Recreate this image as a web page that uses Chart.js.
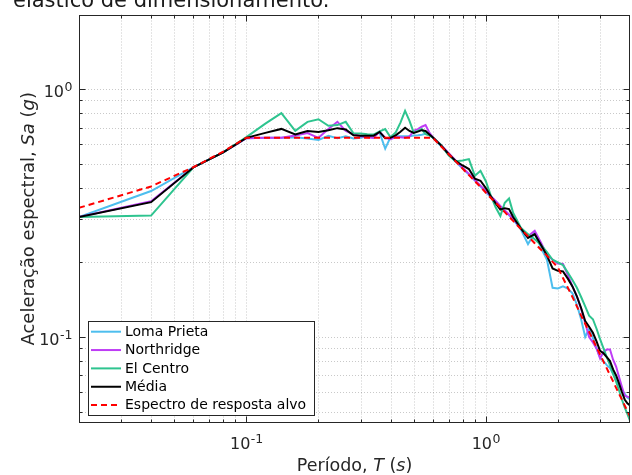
<!DOCTYPE html>
<html>
<head>
<meta charset="utf-8">
<script src="https://cdn.jsdelivr.net/npm/chart.js@4"></script>
<style>
  html, body { margin: 0; padding: 0; background: #fff; }
  #wrap { width: 632px; height: 475px; }
</style>
</head>
<body>
<div id="wrap"><canvas id="espectro" width="632" height="475"></canvas></div>
<script>
// períodos (s)
const periodos = [0.02, 0.04, 0.06, 0.08, 0.10, 0.12, 0.14, 0.16, 0.18, 0.20, 0.22, 0.24, 0.26, 0.28, 0.30,
    0.32, 0.34, 0.36, 0.38, 0.40, 0.42, 0.44, 0.46, 0.48, 0.50, 0.52, 0.54, 0.56, 0.58, 0.60,
    0.65, 0.70, 0.75, 0.80, 0.85, 0.90, 0.95, 1.00, 1.05, 1.10, 1.15, 1.20, 1.25, 1.30,
    1.40, 1.50, 1.60, 1.70, 1.80, 1.90, 2.00, 2.10, 2.20, 2.30, 2.40, 2.50, 2.60, 2.70, 2.80, 2.90,
    3.00, 3.10, 3.20, 3.30, 3.40, 3.50, 3.60, 3.70, 3.80, 3.90, 4.00];

// Sa (g)
const lomaPrieta = [0.305, 0.388, 0.483, 0.556, 0.634, 0.636, 0.636, 0.640, 0.632, 0.624, 0.648, 0.634, 0.645, 0.632, 0.636,
    0.645, 0.655, 0.668, 0.575, 0.640, 0.645, 0.645, 0.645, 0.645, 0.650, 0.652, 0.655, 0.660, 0.652, 0.638,
    0.590, 0.545, 0.508, 0.478, 0.452, 0.428, 0.405, 0.385, 0.366, 0.350, 0.335, 0.322, 0.310, 0.298,
    0.272, 0.237, 0.263, 0.229, 0.205, 0.158, 0.157, 0.160, 0.157, 0.150, 0.135, 0.118, 0.100, 0.108, 0.099, 0.090,
    0.0825, 0.080, 0.077, 0.075, 0.071, 0.067, 0.064, 0.061, 0.059, 0.057, 0.056];

const northridge = [0.305, 0.353, 0.483, 0.556, 0.634, 0.636, 0.636, 0.650, 0.665, 0.636, 0.690, 0.738, 0.679, 0.658, 0.645,
    0.640, 0.636, 0.674, 0.636, 0.628, 0.640, 0.640, 0.636, 0.645, 0.679, 0.690, 0.705, 0.716, 0.670, 0.640,
    0.595, 0.552, 0.515, 0.482, 0.455, 0.430, 0.408, 0.388, 0.370, 0.354, 0.338, 0.324, 0.312, 0.300,
    0.275, 0.255, 0.268, 0.240, 0.215, 0.205, 0.198, 0.197, 0.178, 0.160, 0.146, 0.130, 0.114, 0.100, 0.095, 0.090,
    0.082, 0.087, 0.089, 0.089, 0.081, 0.076, 0.069, 0.063, 0.058, 0.0575, 0.057];

const elCentro = [0.305, 0.309, 0.483, 0.556, 0.640, 0.726, 0.800, 0.679, 0.738, 0.756, 0.711, 0.716, 0.738, 0.664, 0.662,
    0.658, 0.656, 0.675, 0.690, 0.640, 0.668, 0.733, 0.817, 0.745, 0.668, 0.679, 0.690, 0.658, 0.652, 0.638,
    0.595, 0.540, 0.512, 0.515, 0.522, 0.447, 0.468, 0.425, 0.371, 0.333, 0.308, 0.348, 0.362, 0.317,
    0.276, 0.260, 0.248, 0.235, 0.220, 0.205, 0.200, 0.195, 0.182, 0.170, 0.158, 0.145, 0.133, 0.122, 0.118, 0.108,
    0.098, 0.090, 0.083, 0.077, 0.071, 0.066, 0.061, 0.056, 0.052, 0.049, 0.046];

const media = [0.305, 0.350, 0.483, 0.556, 0.636, 0.666, 0.691, 0.656, 0.678, 0.672, 0.683, 0.696, 0.687, 0.651, 0.648,
    0.648, 0.649, 0.672, 0.634, 0.636, 0.651, 0.673, 0.699, 0.678, 0.666, 0.674, 0.683, 0.678, 0.658, 0.639,
    0.593, 0.546, 0.512, 0.492, 0.476, 0.435, 0.427, 0.399, 0.369, 0.346, 0.327, 0.331, 0.328, 0.305,
    0.274, 0.251, 0.260, 0.235, 0.213, 0.189, 0.185, 0.184, 0.172, 0.160, 0.146, 0.131, 0.116, 0.110, 0.104, 0.096,
    0.088, 0.086, 0.083, 0.080, 0.074, 0.070, 0.065, 0.060, 0.056, 0.054, 0.053];

const alvo = [0.332, 0.405, 0.484, 0.560, 0.637, 0.637, 0.637, 0.637, 0.637, 0.637, 0.637, 0.637, 0.637, 0.637, 0.637,
    0.637, 0.637, 0.637, 0.637, 0.637, 0.637, 0.637, 0.637, 0.637, 0.637, 0.637, 0.637, 0.637, 0.637, 0.637,
    0.588, 0.546, 0.510, 0.478, 0.450, 0.425, 0.403, 0.382, 0.364, 0.348, 0.333, 0.319, 0.306, 0.294,
    0.273, 0.255, 0.239, 0.225, 0.213, 0.201, 0.191, 0.173, 0.158, 0.145, 0.133, 0.122, 0.113, 0.105, 0.0976, 0.0910,
    0.0850, 0.0796, 0.0747, 0.0703, 0.0662, 0.0624, 0.0590, 0.0559, 0.0530, 0.0503, 0.0478];

// rótulos dos eixos (10^n)
const xTicks = [0.1, 1];
const xExpoentes = ['-1', '0'];
const yTicks = [0.1, 1];
const yExpoentes = ['-1', '0'];

const FONTE = '"DejaVu Sans", Verdana, sans-serif';
const COR_EIXO = '#262626';

function pontos(ys) {
    return periodos.map((t, i) => ({ x: t, y: ys[i] }));
}

// linhas de grade: 1..9 x 10^n dentro do intervalo
function valoresGrade(min, max) {
    const out = [];
    for (let e = Math.floor(Math.log10(min)); e <= Math.ceil(Math.log10(max)); e++) {
        for (let k = 1; k <= 9; k++) {
            const v = k * Math.pow(10, e);
            if (v > min * 1.0001 && v < max * 0.9999) out.push({ v: v, major: k === 1 });
        }
    }
    return out;
}

function textoMisto(ctx, partes, x, y, size) {
    let total = 0;
    partes.forEach(p => {
        ctx.font = (p[1] ? 'italic ' : '') + size + 'px ' + FONTE;
        total += ctx.measureText(p[0]).width;
    });
    let cx = x - total / 2;
    partes.forEach(p => {
        ctx.font = (p[1] ? 'italic ' : '') + size + 'px ' + FONTE;
        ctx.fillText(p[0], cx, y);
        cx += ctx.measureText(p[0]).width;
    });
}

function potencia(ctx, exp, x, y, alinhar) {
    ctx.font = '16px ' + FONTE;
    const wb = ctx.measureText('10').width;
    ctx.font = '12.5px ' + FONTE;
    const we = ctx.measureText(exp).width;
    let x0 = alinhar === 'right' ? x - wb - we : x - (wb + we) / 2;
    ctx.font = '16px ' + FONTE;
    ctx.fillText('10', x0, y);
    ctx.font = '12.5px ' + FONTE;
    ctx.fillText(exp, x0 + wb + 0.5, y - 6.5);
}

const moldura = {
    id: 'moldura',
    beforeDatasetsDraw(chart) {
        const { ctx, chartArea: a, scales: { x, y } } = chart;
        ctx.save();
        ctx.strokeStyle = 'rgba(38,38,38,0.25)';
        ctx.lineWidth = 1;
        ctx.setLineDash([1, 2]);
        valoresGrade(x.min, x.max).forEach(g => {
            const px = Math.round(x.getPixelForValue(g.v)) + 0.5;
            ctx.beginPath(); ctx.moveTo(px, a.top); ctx.lineTo(px, a.bottom); ctx.stroke();
        });
        valoresGrade(y.min, y.max).forEach(g => {
            const py = Math.round(y.getPixelForValue(g.v)) + 0.5;
            ctx.beginPath(); ctx.moveTo(a.left, py); ctx.lineTo(a.right, py); ctx.stroke();
        });
        ctx.restore();
    },
    afterDraw(chart) {
        const { ctx, chartArea: a, scales: { x, y } } = chart;
        ctx.save();

        // legenda de documento, cortada no topo
        ctx.fillStyle = '#1a1a1a';
        ctx.font = '21px ' + FONTE;
        ctx.textBaseline = 'alphabetic';
        ctx.fillText('elástico de dimensionamento.', 13, 6.5);

        // caixa do eixo + marcas para dentro
        const L = Math.round(a.left) + 0.5, R = Math.round(a.right) - 0.5;
        const T = Math.round(a.top) + 0.5, B = Math.round(a.bottom) - 0.5;
        ctx.strokeStyle = COR_EIXO;
        ctx.lineWidth = 1;
        ctx.strokeRect(L, T, R - L, B - T);
        ctx.beginPath();
        valoresGrade(x.min, x.max).forEach(g => {
            const px = Math.round(x.getPixelForValue(g.v)) + 0.5;
            const len = g.major ? 6 : 3;
            ctx.moveTo(px, B); ctx.lineTo(px, B - len);
            ctx.moveTo(px, T); ctx.lineTo(px, T + len);
        });
        valoresGrade(y.min, y.max).forEach(g => {
            const py = Math.round(y.getPixelForValue(g.v)) + 0.5;
            const len = g.major ? 6 : 3;
            ctx.moveTo(L, py); ctx.lineTo(L + len, py);
            ctx.moveTo(R, py); ctx.lineTo(R - len, py);
        });
        ctx.stroke();

        // rótulos das marcas
        ctx.fillStyle = COR_EIXO;
        xTicks.forEach((v, i) => potencia(ctx, xExpoentes[i], x.getPixelForValue(v), a.bottom + 26, 'center'));
        yTicks.forEach((v, i) => potencia(ctx, yExpoentes[i], a.left - 7, y.getPixelForValue(v) + 8.3, 'right'));

        // títulos dos eixos
        textoMisto(ctx, [['Período, ', false], ['T', true], [' (', false], ['s', true], [')', false]],
            (a.left + a.right) / 2, 471, 17.5);
        ctx.save();
        ctx.translate(33.5, (a.top + a.bottom) / 2);
        ctx.rotate(-Math.PI / 2);
        textoMisto(ctx, [['Aceleração espectral, ', false], ['Sa', true], [' (', false], ['g', true], [')', false]],
            0, 0, 18);
        ctx.restore();

        // legenda
        const lx = 88.5, ly = 321.5, lw = 226, lh = 94;
        ctx.fillStyle = '#fff';
        ctx.fillRect(lx, ly, lw, lh);
        ctx.strokeStyle = COR_EIXO;
        ctx.strokeRect(lx, ly, lw, lh);
        ctx.font = '14px ' + FONTE;
        ctx.textBaseline = 'middle';
        chart.data.datasets.forEach((ds, i) => {
            const yy = 331.7 + i * 18.35;
            ctx.strokeStyle = ds.borderColor;
            ctx.lineWidth = ds.borderWidth;
            ctx.setLineDash(ds.borderDash || []);
            ctx.beginPath(); ctx.moveTo(91, yy); ctx.lineTo(121, yy); ctx.stroke();
            ctx.setLineDash([]);
            ctx.fillStyle = '#000';
            ctx.fillText(ds.label, 125, yy + 0.5);
        });
        ctx.restore();
    }
};

new Chart(document.getElementById('espectro'), {
    type: 'line',
    data: {
        datasets: [
            { label: 'Loma Prieta', data: pontos(lomaPrieta), borderColor: '#4DBEEE', borderWidth: 2, order: 4 },
            { label: 'Northridge', data: pontos(northridge), borderColor: '#BE3CF5', borderWidth: 2, order: 3 },
            { label: 'El Centro', data: pontos(elCentro), borderColor: '#2EC48F', borderWidth: 2, order: 2 },
            { label: 'Média', data: pontos(media), borderColor: '#000000', borderWidth: 2, order: 1 },
            { label: 'Espectro de resposta alvo', data: pontos(alvo), borderColor: '#FF0000', borderWidth: 2, borderDash: [6, 4], order: 0 }
        ]
    },
    options: {
        responsive: false,
        animation: false,
        devicePixelRatio: 1,
        layout: { padding: { left: 79, right: 2, top: 14.5, bottom: 52 } },
        elements: { point: { radius: 0 }, line: { tension: 0, fill: false } },
        plugins: { legend: { display: false }, tooltip: { enabled: false } },
        scales: {
            x: {
                type: 'logarithmic', min: 0.02, max: 4,
                ticks: { display: false },
                grid: { display: false, drawTicks: false },
                border: { display: false }
            },
            y: {
                type: 'logarithmic', min: 0.045, max: 2,
                ticks: { display: false },
                grid: { display: false, drawTicks: false },
                border: { display: false }
            }
        }
    },
    plugins: [moldura]
});
</script>
</body>
</html>
